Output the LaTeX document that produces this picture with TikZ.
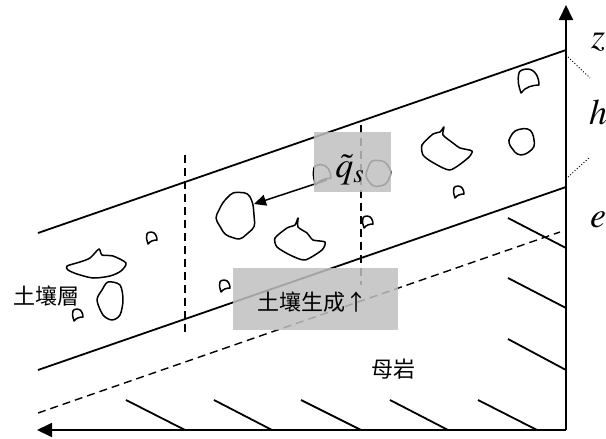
\documentclass[tikz,border=0pt]{standalone}
\usepackage{mathptmx}
\usepackage[no-math]{fontspec}
\newfontfamily\cjk{Noto Sans CJK TC}
\usetikzlibrary{arrows.meta, positioning}

\tikzset{
  kiesel/.pic={\draw[rock] (0,0) .. controls (-1,4) and (0,7) .. (1,10) .. controls (3,7) and (7,6) .. (10,6) .. controls (10,2) and (8,-2) .. (4,-2) .. controls (2,-2) and (0,-1) .. (0,0) -- cycle;}
}

\begin{document}
\begin{tikzpicture}[x=0.5pt, y=-0.5pt,
    linie/.style={line width=0.9pt},
    achse/.style={line width=0.9pt, -{Triangle[length=7.5pt, width=7pt]}},
    strich/.style={line width=0.7pt, dash pattern=on 4pt off 2.5pt},
    punkte/.style={line width=0.45pt, dash pattern=on 0.5pt off 1pt},
    rock/.style={line width=0.75pt, line join=round},
    graubox/.style={fill=black!25, fill opacity=0.85},
    zeichen/.style={font=\fontsize{18}{20}\selectfont, inner sep=0pt},
    schrift/.style={font=\cjk\fontsize{11}{13}\selectfont, inner sep=0pt}]

    \useasboundingbox (0,0) rectangle (606,439);

    % Achsen
    \coordinate (O) at (566,430);
    \coordinate (ztop) at (566,5);
    \coordinate (xlinks) at (37,430);
    \draw[achse] (O) -- (ztop);
    \draw[achse] (O) -- (xlinks);

    % Oberflaeche, Grenze Boden/Fels, Verwitterungsfront
    \coordinate (ob1) at (38,233);
    \coordinate (ob2) at (566,50);
    \coordinate (un1) at (38,370);
    \coordinate (un2) at (566,187);
    \draw[linie] (ob1) -- (ob2);
    \draw[linie] (un1) -- (un2);
    \draw[strich] (38,413) -- (560,232);

    % Schnitte
    \draw[strich] (185,155) -- (185,333);
    \draw[strich] (361,125) -- (361,285);

    % Schraffur Fels
    \draw[linie] (126,400) -- (185,430);
    \draw[linie] (214,400) -- (272,430);
    \draw[linie] (301,400) -- (361,430);
    \draw[linie] (390,400) -- (448,430);
    \draw[linie] (478,400) -- (537,430);
    \draw[linie] (508,218) -- (566,248);
    \draw[linie] (508,278) -- (566,308);
    \draw[linie] (508,339) -- (566,370);

    % Hilfslinien rechts
    \draw[punkte] (568,57) -- (590,78);
    \draw[punkte] (568,177) -- (590,157);

    % Steine
    \draw[rock] plot[smooth cycle, tension=0.45] coordinates {(67,266) (80,262) (90,258) (99,249) (102,255) (113,256) (126,263) (121,271) (110,276) (93,278) (77,274) (68,270)};
    \draw[rock] plot[smooth cycle, tension=0.5] coordinates {(108,282) (120,285) (123,300) (120,315) (112,320) (103,315) (97,300) (102,290)};
    \draw[rock, rounded corners=2pt] (233,192) -- (248,193) -- (253,203) -- (255,227) -- (240,240) -- (225,235) -- (215,218) -- (223,202) -- cycle;
    \draw[rock] plot[smooth cycle, tension=0.4] coordinates {(275,238) (287,228) (295,225) (298,218) (298,227) (307,233) (313,240) (325,242) (322,250) (305,260) (290,255) (277,247)};
    \draw[rock] plot[smooth cycle, tension=0.4] coordinates {(422,145) (433,134) (440,132) (444,127) (443,135) (453,143) (460,148) (472,151) (468,158) (450,170) (432,162) (423,155)};
    \draw[rock, rounded corners=2pt] (515,130) -- (528,128) -- (533,133) -- (535,147) -- (525,155) -- (517,155) -- (508,143) -- (510,137) -- cycle;
    \draw[rock, rounded corners=2pt] (371,160) -- (385,161) -- (392,172) -- (386,185) -- (373,187) -- (365,176) -- cycle;

    \pic at (147,234) {kiesel};
    \pic at (73,311) {kiesel};
    \pic at (220,282) {kiesel};
    \pic at (363,218) {kiesel};
    \pic at (454,188) {kiesel};
    \pic[scale=2] at (519,73) {kiesel};
    \pic[scale=1.7] at (314,168) {kiesel};

    % Fluss
    \coordinate (qstart) at (327,180);
    \coordinate (stein) at (254,204);
    \draw[line width=0.75pt, -{Triangle[length=6pt, width=5.5pt]}] (qstart) -- (stein);

    % Kaesten
    \fill[graubox] (314,132) rectangle (391,192);
    \fill[graubox] (233,268) rectangle (398,330);

    % Beschriftung
    \node[zeichen] (qs) at (350,170) {$\tilde{q}_s$};
    \node[schrift] (bildung) at (312,302) {土壤生成↑};
    \node[schrift] (boden) at (46,296) {土壤層};
    \node[schrift] (fels) at (393,369) {母岩};
    \node[zeichen] (z) at (598,42) {$z$};
    \node[zeichen] (h) at (598,112) {$h$};
    \node[zeichen] (e) at (598,220) {$e$};

\end{tikzpicture}
\end{document}
